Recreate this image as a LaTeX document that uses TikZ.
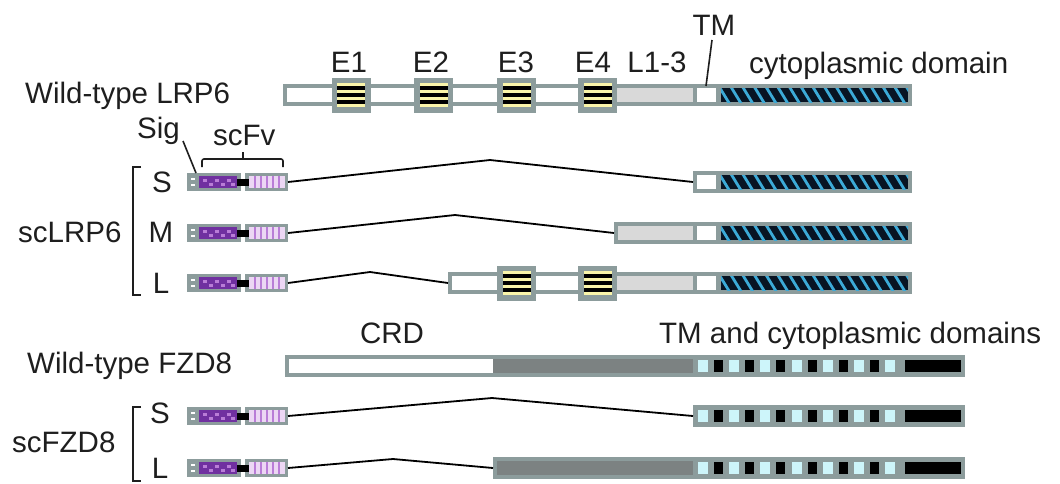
\documentclass[tikz,border=0pt]{standalone}
\usepackage{fontspec}
\setmainfont{Liberation Sans}
\definecolor{bord}{RGB}{140,156,156}
\definecolor{lgray}{RGB}{217,217,217}
\definecolor{dgray}{RGB}{124,130,130}
\definecolor{pyel}{RGB}{250,245,170}
\definecolor{hblue}{RGB}{60,170,215}
\definecolor{hdark}{RGB}{8,20,35}
\definecolor{lcyan}{RGB}{205,245,250}
\definecolor{purp}{RGB}{112,48,160}
\definecolor{lpurp}{RGB}{185,125,215}
\definecolor{lav}{RGB}{236,215,244}
\definecolor{txt}{RGB}{30,30,30}
\newcommand\myseg[4]{\fill[#4] (#1,#3-7) rectangle (#2,#3+7);}
\newcommand\myhatch[3]{%
  \begin{scope}
  \clip (#1,#3-7) rectangle (#2,#3+7);
  \fill[hdark] (#1,#3-7) rectangle (#2,#3+7);
  \foreach \k in {0,...,18} \draw[hblue, line width=2.8pt] ({#1-14+\k*11.7},#3-9) -- ++(11,18);
  \end{scope}}
\newcommand\myebox[2]{%
  \fill[bord] (#1-19.5,#2-17.5) rectangle (#1+19.5,#2+17.5);
  \fill[pyel] (#1-14,#2-12) rectangle (#1+14,#2+12);
  \foreach \d in {-7,0,7} \fill[black] (#1-14,#2+\d-2.2) rectangle (#1+14,#2+\d+2.2);}
\newcommand\mycyto[1]{%
  \myseg{697}{716}{#1}{white}
  \myhatch{721}{908}{#1}}
\newcommand\mysq[1]{%
  \foreach \k in {0,...,6} \fill[lcyan] ({698+\k*31.2},#1-6) rectangle ++(10,12);
  \foreach \k in {0,...,5} \fill[black] ({714+\k*31.2},#1-6) rectangle ++(9,12);
  \fill[black] (905,#1-6) rectangle (961,#1+6);}
\newcommand\myscfv[2]{%
  \node[fvbox, minimum width=54pt] (#1a) at (214,#2) {};
  \node[fvbox, minimum width=43pt] (#1b) at (266.5,#2) {};
  \fill[white] (190.5,#2-4) rectangle (195,#2-2);
  \fill[white] (190.5,#2+1.5) rectangle (195,#2+3.5);
  \fill[purp] (199,#2-6) rectangle (237,#2+6);
  \foreach \px in {203,215,227} \fill[lpurp] (\px,#2-3.5) rectangle ++(4,3);
  \foreach \px in {209,221,231} \fill[lpurp] (\px,#2+0.5) rectangle ++(4,3);
  \fill[black] (237,#2-3.5) rectangle (249,#2+3.5);
  \fill[lav] (249,#2-6) rectangle (285,#2+6);
  \foreach \px in {254,260,266,272,278} \fill[lpurp] (\px,#2-6) rectangle ++(2,12);}
\begin{document}
\begin{tikzpicture}[x=1pt,y=-1pt,
  font=\fontsize{29.5}{32}\selectfont, text=txt,
  barbox/.style={fill=bord, inner sep=0pt, outer sep=0pt, minimum height=22pt},
  fvbox/.style={fill=bord, inner sep=0pt, outer sep=0pt, minimum height=18pt},
  conn/.style={draw=black, line width=1.8pt, line join=round},
  thin/.style={draw=txt, line width=1.6pt},
  lbl/.style={inner sep=0pt, anchor=base}]
\useasboundingbox (0,0) rectangle (1060,483);
\fill[white] (0,0) rectangle (1060,483);

% ---------- connectors (peaks)
\coordinate (pkS) at (490,160);
\coordinate (pkM) at (455,215);
\coordinate (pkL) at (370,272);
\coordinate (pkFS) at (492,398);
\coordinate (pkFL) at (393,459);

% ---------- Wild-type LRP6
\node[barbox, minimum width=629pt] (wtL) at (597.5,95) {};
\myseg{287}{621}{95}{white}
\myseg{617}{693}{95}{lgray}
\mycyto{95}
\myebox{351}{95}\myebox{433.5}{95}\myebox{516.5}{95}\myebox{597.5}{95}

% ---------- scLRP6 rows
\node[barbox, minimum width=219pt] (rowS) at (802.5,182) {};
\mycyto{182}
\node[barbox, minimum width=298pt] (rowM) at (763,233) {};
\myseg{618}{693}{233}{lgray}
\mycyto{233}
\node[barbox, minimum width=464pt] (rowL) at (680,283) {};
\myseg{452}{621}{283}{white}
\myseg{617}{693}{283}{lgray}
\mycyto{283}
\myebox{516.5}{283}\myebox{597.5}{283}

\myscfv{fvS}{182}
\myscfv{fvM}{233}
\myscfv{fvL}{283}
\draw[conn] (fvSb.east) -- (pkS) -- (rowS.west);
\draw[conn] (fvMb.east) -- (pkM) -- (rowM.west);
\draw[conn] (fvLb.east) -- (pkL) -- (rowL.west);

% ---------- Wild-type FZD8
\node[barbox, minimum width=680pt] (wtF) at (625,366) {};
\myseg{289}{494}{366}{white}
\myseg{493}{693}{366}{dgray}
\mysq{366}

% ---------- scFZD8 rows
\node[barbox, minimum width=272pt] (rowFS) at (829,416) {};
\mysq{416}
\node[barbox, minimum width=472pt] (rowFL) at (729,468) {};
\myseg{497}{693}{468}{dgray}
\mysq{468}
\myscfv{fvFS}{416}
\myscfv{fvFL}{468}
\draw[conn] (fvFSb.east) -- (pkFS) -- (rowFS.west);
\draw[conn] (fvFLb.east) -- (pkFL) -- (rowFL.west);

% ---------- brackets and ticks
\draw[thin] (141,167) -- (133,167) -- (133,295) -- (141,295);
\draw[thin] (141,407) -- (133,407) -- (133,481) -- (141,481);
\draw[thin, rounded corners=2pt] (202,167) -- (202,159) -- (283,159) -- (283,167);
\draw[thin] (243,159) -- (243,152);
\draw[thin] (183,141) -- (196,173);
\draw[thin] (712,40) -- (706,86);

% ---------- labels
\node[lbl, anchor=base west] (tWL) at (25,103) {Wild-type LRP6};
\node[lbl] (tE1) at (349,72) {E1};
\node[lbl] (tE2) at (431,72) {E2};
\node[lbl] (tE3) at (516,72) {E3};
\node[lbl] (tE4) at (593,72) {E4};
\node[lbl] (tL13) at (657,72) {L1-3};
\node[lbl] (tTM) at (714,35) {TM};
\node[lbl, anchor=base west] (tcyto) at (749,73) {cytoplasmic domain};
\node[lbl, anchor=base west] (tSig) at (137,138) {Sig};
\node[lbl, anchor=base west] (tscFv) at (213,145) {scFv};
\node[lbl] (tS1) at (162,192) {S};
\node[lbl] (tM1) at (161,242) {M};
\node[lbl] (tL1) at (161,293) {L};
\node[lbl, anchor=base west] (tscL) at (18,242) {scLRP6};
\node[lbl, anchor=base west] (tWF) at (27,373) {Wild-type FZD8};
\node[lbl] (tCRD) at (392,343) {CRD};
\node[lbl, anchor=base west] (tTMc) at (659,343) {TM and cytoplasmic domains};
\node[lbl, anchor=base west] (tscF) at (12,452) {scFZD8};
\node[lbl] (tS2) at (160,423) {S};
\node[lbl] (tL2) at (160,478) {L};
\end{tikzpicture}
\end{document}
